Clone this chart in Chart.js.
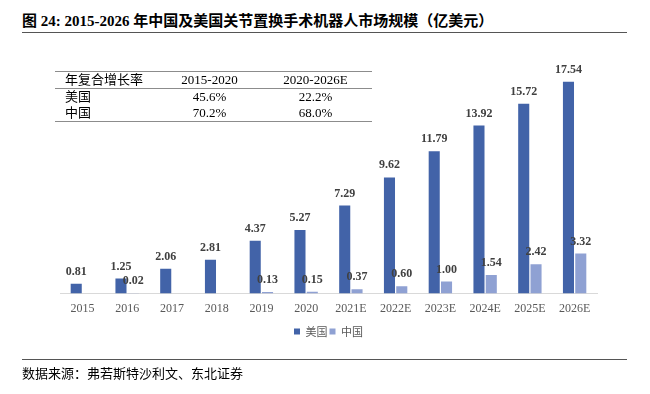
<!DOCTYPE html>
<html>
<head>
<meta charset="utf-8">
<script src="https://cdn.jsdelivr.net/npm/chart.js@4"></script>
<style>
  body { margin: 0; background: #fff; }
  #page { position: relative; width: 650px; height: 394px; overflow: hidden;
          font-family: "Liberation Serif", "Noto Sans CJK SC", serif; color: #000; }
  #title { position: absolute; left: 22px; top: 9px; font-size: 15px; font-weight: bold; white-space: nowrap; }
  .rule { position: absolute; left: 22px; width: 605px; height: 0; border-top: 1.5px solid #555; }
  #source { position: absolute; left: 22px; top: 363px; font-size: 13px; white-space: nowrap; }
  #chartBox { position: absolute; left: 0; top: 0; width: 650px; height: 394px; }
  #cagr { position: absolute; left: 55px; top: 71px; width: 317px; border-collapse: collapse;
          font-size: 13px; z-index: 2; }
  #cagr td { padding: 0; height: 16px; line-height: 16px; text-align: center; }
  #cagr td:first-child { text-align: left; padding-left: 10px; width: 95px; }
  #cagr tr.head td { border-top: 1.5px solid #8c8c8c; border-bottom: 1.5px solid #8c8c8c; height: 16px; }
  #cagr tr.last td { border-bottom: 1.5px solid #8c8c8c; }
</style>
</head>
<body>
<div id="page">
  <div id="title">图 24: 2015-2026 年中国及美国关节置换手术机器人市场规模（亿美元）</div>
  <div class="rule" style="top:32px"></div>
  <div id="chartBox"><canvas id="marketChart" width="650" height="394"></canvas></div>
  <table id="cagr"></table>
  <div class="rule" style="top:359px"></div>
  <div id="source">数据来源：弗若斯特沙利文、东北证券</div>
</div>
<script>
const years = ['2015', '2016', '2017', '2018', '2019', '2020', '2021E', '2022E', '2023E', '2024E', '2025E', '2026E'];
const usMarket = [0.81, 1.25, 2.06, 2.81, 4.37, 5.27, 7.29, 9.62, 11.79, 13.92, 15.72, 17.54];
const chinaMarket = [null, 0.02, null, null, 0.13, 0.15, 0.37, 0.60, 1.00, 1.54, 2.42, 3.32];

const cagrHeader = ['年复合增长率', '2015-2020', '2020-2026E'];
const cagrUS = ['美国', '45.6%', '22.2%'];
const cagrChina = ['中国', '70.2%', '68.0%'];

// CAGR table above the bars
const table = document.getElementById('cagr');
[[cagrHeader, 'head'], [cagrUS, ''], [cagrChina, 'last']].forEach(([row, cls]) => {
    const tr = document.createElement('tr');
    if (cls) tr.className = cls;
    row.forEach(text => {
        const td = document.createElement('td');
        td.textContent = text;
        tr.appendChild(td);
    });
    table.appendChild(tr);
});

// value labels on top of each bar
const valueLabels = {
    id: 'valueLabels',
    afterDatasetsDraw(chart) {
        const ctx = chart.ctx;
        ctx.save();
        ctx.font = 'bold 12px "Liberation Serif"';
        ctx.fillStyle = '#404040';
        ctx.textAlign = 'center';
        ctx.textBaseline = 'bottom';
        chart.data.datasets.forEach((ds, i) => {
            chart.getDatasetMeta(i).data.forEach((bar, j) => {
                const v = ds.data[j];
                if (v === null) return;
                ctx.fillText(v.toFixed(2), bar.x, bar.y - 6);
            });
        });
        ctx.restore();
    }
};

const ctx = document.getElementById('marketChart').getContext('2d');
new Chart(ctx, {
    type: 'bar',
    data: {
        labels: years,
        datasets: [{
            label: '美国',
            data: usMarket,
            backgroundColor: '#4263A8',
            categoryPercentage: 0.55,
            barPercentage: 0.9
        }, {
            label: '中国',
            data: chinaMarket,
            backgroundColor: '#8FA1D3',
            categoryPercentage: 0.55,
            barPercentage: 0.9
        }]
    },
    options: {
        responsive: false,
        maintainAspectRatio: false,
        animation: false,
        layout: {
            padding: { left: 60, right: 53, top: 52, bottom: 47 }
        },
        plugins: {
            legend: {
                position: 'bottom',
                labels: {
                    usePointStyle: true,
                    pointStyle: 'rect',
                    boxWidth: 6,
                    boxHeight: 6,
                    padding: 2,
                    color: '#595959',
                    font: { family: '"Noto Sans CJK SC"', size: 11 }
                }
            },
            tooltip: { enabled: false }
        },
        scales: {
            y: {
                display: false,
                min: 0,
                max: 20
            },
            x: {
                grid: { display: false, drawTicks: false },
                border: { display: true, color: '#D9D9D9', width: 1 },
                ticks: {
                    padding: 8,
                    color: '#595959',
                    font: { family: '"Liberation Serif"', size: 12 }
                }
            }
        }
    },
    plugins: [valueLabels]
});
</script>
</body>
</html>
